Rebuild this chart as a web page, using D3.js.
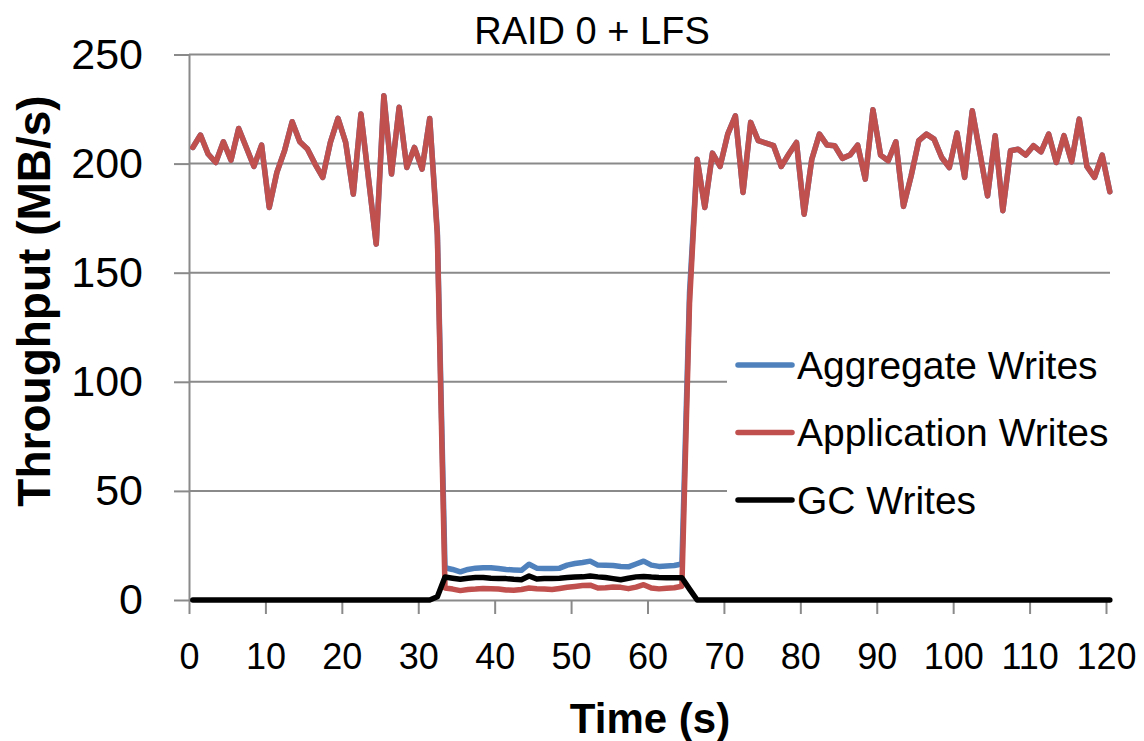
<!DOCTYPE html>
<html>
<head>
<meta charset="utf-8">
<script src="https://cdn.jsdelivr.net/npm/d3@7"></script>
<style>
  body { margin: 0; background: #fff; }
  svg { display: block; font-family: "Liberation Sans", Arial, sans-serif; }
</style>
</head>
<body>
<div id="chart"></div>
<script>
// sample times: one point per second, centred in each second
const times = d3.range(121).map(i => i + 0.5);

const aggregateWrites = [
  207.4, 213.1, 204.4, 200.5, 210.0, 201.6, 216.1, 207.4, 198.7, 208.5,
  179.9, 196.0, 205.9, 219.2, 210.0, 206.7, 199.8, 193.7, 209.7, 220.7,
  209.7, 186.0, 222.7, 192.9, 163.1, 231.1, 195.2, 225.8, 198.2, 207.4,
  197.5, 220.7, 168.5, 14.8, 14.0, 12.9, 14.0, 14.6, 14.8, 14.8,
  14.4, 14.0, 13.8, 13.6, 16.4, 14.6, 14.4, 14.4, 14.6, 16.0,
  16.7, 17.2, 17.8, 16.0, 15.9, 15.8, 15.4, 15.2, 16.5, 17.8,
  16.0, 15.4, 15.6, 15.8, 16.5, 141.0, 202.0, 179.9, 204.8, 198.7,
  213.5, 221.9, 186.8, 218.9, 210.5, 209.4, 208.2, 198.7, 204.4, 209.7,
  176.8, 202.0, 213.5, 208.5, 208.2, 202.4, 203.9, 208.5, 192.9, 224.7,
  203.9, 201.3, 210.0, 180.4, 194.4, 210.5, 213.5, 211.2, 202.8, 198.2,
  214.0, 193.7, 224.2, 205.0, 185.2, 212.8, 178.4, 205.9, 206.6, 203.9,
  208.2, 205.4, 213.5, 200.5, 212.8, 200.8, 220.4, 198.7, 193.7, 203.9,
  187.1
];

const applicationWrites = [
  207.4, 213.1, 204.4, 200.5, 210.0, 201.6, 216.1, 207.4, 198.7, 208.5,
  179.9, 196.0, 205.9, 219.2, 210.0, 206.7, 199.8, 193.7, 209.7, 220.7,
  209.7, 186.0, 222.7, 192.9, 163.1, 231.1, 195.2, 225.8, 198.2, 207.4,
  197.5, 220.7, 167.0, 5.5, 5.0, 4.3, 4.8, 5.0, 5.3, 5.2,
  5.0, 4.6, 4.5, 4.8, 5.5, 5.2, 5.0, 4.8, 5.3, 5.8,
  6.2, 6.6, 6.8, 5.5, 5.6, 6.0, 5.8, 5.2, 5.9, 7.0,
  5.5, 5.1, 5.4, 5.6, 6.3, 136.0, 202.0, 179.9, 204.8, 198.7,
  213.5, 221.9, 186.8, 218.9, 210.5, 209.4, 208.2, 198.7, 204.4, 209.7,
  176.8, 202.0, 213.5, 208.5, 208.2, 202.4, 203.9, 208.5, 192.9, 224.7,
  203.9, 201.3, 210.0, 180.4, 194.4, 210.5, 213.5, 211.2, 202.8, 198.2,
  214.0, 193.7, 224.2, 205.0, 185.2, 212.8, 178.4, 205.9, 206.6, 203.9,
  208.2, 205.4, 213.5, 200.5, 212.8, 200.8, 220.4, 198.7, 193.7, 203.9,
  187.1
];

const gcWrites = [
  0, 0, 0, 0, 0, 0, 0, 0, 0, 0,
  0, 0, 0, 0, 0, 0, 0, 0, 0, 0,
  0, 0, 0, 0, 0, 0, 0, 0, 0, 0,
  0, 0, 1.5, 10.5, 10.0, 9.5, 10.0, 10.3, 10.3, 10.0,
  9.8, 9.8, 9.5, 9.3, 11.0, 9.6, 9.8, 9.8, 10.0, 10.3,
  10.5, 10.6, 11.0, 10.6, 10.3, 9.8, 9.3, 10.0, 10.6, 10.8,
  10.5, 10.3, 10.2, 10.2, 10.2, 5.0, 0, 0, 0, 0,
  0, 0, 0, 0, 0, 0, 0, 0, 0, 0,
  0, 0, 0, 0, 0, 0, 0, 0, 0, 0,
  0, 0, 0, 0, 0, 0, 0, 0, 0, 0,
  0, 0, 0, 0, 0, 0, 0, 0, 0, 0,
  0, 0, 0, 0, 0, 0, 0, 0, 0, 0,
  0
];

const seriesNames = ['Aggregate Writes', 'Application Writes', 'GC Writes'];
const seriesColors = ['#4F81BD', '#C0504D', '#000000'];
const xTicks = [0, 10, 20, 30, 40, 50, 60, 70, 80, 90, 100, 110, 120];
const yTicks = [0, 50, 100, 150, 200, 250];

const width = 1144, height = 741;
const plot = { left: 189, right: 1106, top: 54.5, bottom: 600 };
const plotEdge = 1110;
const gridColor = '#8a8a8a';

const svg = d3.select('#chart').append('svg')
    .attr('width', width).attr('height', height);

const x = d3.scaleLinear().domain([0, 120]).range([plot.left, plot.right]);
const y = d3.scaleLinear().domain([0, 250]).range([plot.bottom, plot.top]);

// gridlines
svg.append('g')
  .selectAll('line').data(yTicks.filter(v => v > 0)).join('line')
    .attr('x1', plot.left).attr('x2', plotEdge)
    .attr('y1', d => y(d)).attr('y2', d => y(d))
    .attr('stroke', gridColor).attr('stroke-width', 2);

// y axis
const yAxis = svg.append('g')
    .attr('transform', `translate(${plot.left},0)`)
    .call(d3.axisLeft(y).tickValues(yTicks).tickSize(15).tickSizeOuter(0).tickPadding(31));
yAxis.select('.domain').attr('stroke', gridColor).attr('stroke-width', 2);
yAxis.selectAll('.tick line').attr('stroke', gridColor).attr('stroke-width', 2);
yAxis.selectAll('.tick text')
    .attr('font-size', 43).attr('fill', '#000')
    .attr('font-family', '"Liberation Sans", Arial, sans-serif');

// x axis
const xAxis = svg.append('g')
    .attr('transform', `translate(0,${plot.bottom})`)
    .call(d3.axisBottom(x).tickValues(xTicks).tickSize(14).tickSizeOuter(0));
xAxis.select('.domain').attr('stroke', gridColor).attr('stroke-width', 2);
xAxis.selectAll('.tick line').attr('stroke', gridColor).attr('stroke-width', 2);
xAxis.selectAll('.tick text')
    .attr('font-size', 36).attr('fill', '#000')
    .attr('font-family', '"Liberation Sans", Arial, sans-serif')
    .attr('y', 69).attr('dy', 0);

// legend background (hides gridlines behind legend)
svg.append('rect')
    .attr('x', 727).attr('y', 335).attr('width', 400).attr('height', 195)
    .attr('fill', '#fff');

// series
const allSeries = [aggregateWrites, applicationWrites, gcWrites];
const line = d3.line()
    .x((d, i) => x(times[i]))
    .y(d => y(d));

svg.append('g')
  .selectAll('path').data(allSeries).join('path')
    .attr('d', d => line(d))
    .attr('fill', 'none')
    .attr('stroke', (d, i) => seriesColors[i])
    .attr('stroke-width', 5.5)
    .attr('stroke-linejoin', 'round')
    .attr('stroke-linecap', 'round');

// legend
const legend = svg.append('g')
  .selectAll('g').data(seriesNames).join('g')
    .attr('transform', (d, i) => `translate(738,${365 + i * 67.5})`);
legend.append('line')
    .attr('x1', 0).attr('x2', 54)
    .attr('stroke', (d, i) => seriesColors[i])
    .attr('stroke-width', 5.5)
    .attr('stroke-linecap', 'round');
legend.append('text')
    .attr('x', 59).attr('y', 13.5)
    .attr('font-size', 39)
    .text(d => d);

// titles
svg.append('text')
    .attr('x', 592).attr('y', 44)
    .attr('text-anchor', 'middle')
    .attr('font-size', 38)
    .text('RAID 0 + LFS');

svg.append('text')
    .attr('transform', 'translate(50,301) rotate(-90)')
    .attr('text-anchor', 'middle')
    .attr('font-size', 46).attr('font-weight', 'bold')
    .text('Throughput (MB/s)');

svg.append('text')
    .attr('x', 650).attr('y', 733)
    .attr('text-anchor', 'middle')
    .attr('font-size', 42).attr('font-weight', 'bold')
    .text('Time (s)');
</script>
</body>
</html>
